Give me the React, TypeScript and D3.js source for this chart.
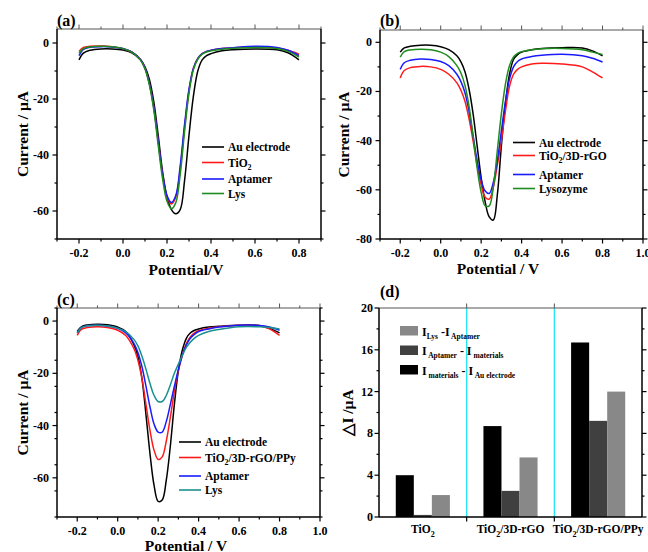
import React from "react";
import * as d3 from "d3";

const FONT = "'Liberation Serif','Times New Roman',Times,serif";

// Potential grid (V)
const potentials = [-0.2, -0.18, -0.15, -0.1, -0.05, 0, 0.04, 0.08, 0.1, 0.12, 0.14, 0.16, 0.18, 0.2, 0.22, 0.24, 0.26, 0.28, 0.3, 0.32, 0.34, 0.36, 0.38, 0.4, 0.45, 0.5, 0.6, 0.7, 0.75, 0.8];

// Panel (a)
const aAu = [-6, -3.6, -2.6, -2.1, -2.1, -2.5, -3.5, -6, -8.5, -13, -21, -33, -46, -55, -59.5, -61, -59.5, -49, -33, -19, -10, -6, -4.5, -3.8, -2.8, -2.4, -2.1, -2.4, -3.5, -6];
const aTiO2 = [-3, -1.6, -1.2, -1.1, -1.3, -2, -3.2, -6, -9, -14.5, -23, -35, -47, -55, -57.5, -55, -45, -30, -17, -9, -5.5, -3.8, -3, -2.6, -2, -1.7, -1.3, -1.8, -2.6, -4];
const aApt = [-4.5, -2.3, -1.5, -1.3, -1.4, -2, -3.2, -6, -9, -14.5, -23, -35, -47, -54.5, -57, -54.5, -44, -29, -16.5, -9, -5.5, -3.8, -3, -2.6, -2, -1.7, -1.2, -1.6, -2.6, -4.5];
const aLys = [-3.7, -2, -1.4, -1.2, -1.3, -2, -3.3, -6.2, -9.3, -15, -24, -36.5, -48.5, -56.5, -59.2, -57, -47, -31.5, -18, -9.5, -5.8, -4, -3.2, -2.8, -2.2, -1.9, -1.6, -2, -3, -5];

// Panel (b)
const bAu = [-4, -2.3, -1.6, -1.2, -1.2, -1.8, -3, -5.5, -8, -12, -19, -29, -42, -55, -65, -71, -72.3, -62, -42, -25, -13, -7, -5, -4, -3, -2.5, -2.2, -2.3, -3.5, -5.5];
const bTiO2rGO = [-14.5, -11.5, -10.3, -9.8, -10, -11, -13, -16.5, -19.5, -24, -31, -40, -50, -58, -63, -63.8, -59, -50, -40, -28, -18, -13, -11, -10, -8.8, -8.5, -8.8, -10, -12, -14.5];
const bApt = [-11, -8.3, -7.3, -6.8, -7, -7.8, -9.5, -13, -16, -20.5, -28, -38, -48, -56, -60.5, -61.5, -57, -48, -36, -24, -15, -10, -7.8, -6.8, -5.8, -5.3, -4.9, -5.5, -6.5, -8];
const bLyso = [-6, -3.8, -3.1, -2.8, -3, -4, -5.8, -9.5, -12.5, -17.5, -26, -38, -51, -61, -66.5, -66.5, -59, -44, -29, -17, -9.5, -6, -4.5, -3.8, -3, -2.6, -2.5, -3, -4, -5];

// Panel (c)
const cAu = [-4, -2.2, -1.5, -1.2, -1.4, -2.3, -4, -9, -13.5, -22, -36, -51, -63, -69, -68.5, -61, -48, -32, -19, -11, -6.5, -4.5, -3.5, -3, -2.3, -2, -1.6, -1.7, -2.8, -4.5];
const cPPy = [-5.5, -3.2, -2.5, -2.2, -2.5, -3.5, -5.5, -10.5, -15, -22, -32, -42, -49.5, -53, -52, -46, -37, -27, -19, -13, -8.5, -6, -4.5, -3.7, -2.7, -2.2, -1.6, -1.8, -3, -5.5];
const cApt = [-4.5, -2.5, -1.8, -1.6, -1.9, -2.8, -4.5, -8.5, -12, -17.5, -25, -33, -39.5, -42.5, -42.5, -38.5, -32, -25, -18.5, -13, -9, -6.5, -5, -4, -3, -2.3, -1.6, -1.7, -2.3, -3.5];
const cLys = [-4.5, -2.5, -1.8, -1.6, -1.9, -2.7, -4, -7, -9.5, -13.5, -18.5, -24, -28.5, -30.8, -30.8, -28.5, -24.5, -20, -16.5, -13, -10, -8, -6.5, -5.5, -4, -3.2, -2.2, -2.2, -2.5, -3];

// Panel (d)
const barGroups = ["TiO2", "TiO2/3D-rGO", "TiO2/3D-rGO/PPy"];
const barMatAu = [4.0, 8.7, 16.7];
const barAptMat = [0.2, 2.5, 9.2];
const barLysApt = [2.1, 5.7, 12.0];

const xTicksA = [-0.2, 0, 0.2, 0.4, 0.6, 0.8];
const xTicksBC = [-0.2, 0, 0.2, 0.4, 0.6, 0.8, 1.0];
const yTicksA = [0, -20, -40, -60];
const yTicksB = [0, -20, -40, -60, -80];
const yTicksC = [0, -20, -40, -60];
const yTicksD = [0, 4, 8, 12, 16, 20];

const C_BLACK = "#000000";
const C_RED = "#ff1a1a";
const C_BLUE = "#1a1aff";
const C_GREEN = "#1e8c1e";
const C_TEAL = "#1a9090";

type Legend = { label: React.ReactNode; color: string; y: number };

function fmt(v: number) {
  return Math.abs(v) < 1e-9 ? "0.0" : v.toFixed(1);
}

function Sub({ base, sub, rest }: { base: string; sub: string; rest?: string }) {
  return (
    <>
      <tspan>{base}</tspan>
      <tspan fontSize={8} dy={3}>{sub}</tspan>
      {rest ? <tspan dy={-3}>{rest}</tspan> : null}
    </>
  );
}

function Frame({ x0, x1, y0, y1 }: { x0: number; x1: number; y0: number; y1: number }) {
  return (
    <g>
      <line x1={x0} x2={x1} y1={y0} y2={y0} stroke="#555" strokeWidth={1} />
      <line x1={x0} x2={x0} y1={y0} y2={y1} stroke="#000" strokeWidth={1.5} />
      <line x1={x1} x2={x1} y1={y0} y2={y1} stroke="#000" strokeWidth={1.5} />
      <line x1={x0} x2={x1} y1={y1} y2={y1} stroke="#000" strokeWidth={1.5} />
    </g>
  );
}

function LinePanel(props: {
  x0: number; x1: number; y0: number; y1: number;
  xDomain: [number, number]; yDomain: [number, number];
  xTicks: number[]; yTicks: number[];
  series: { values: number[]; color: string }[];
  legend: Legend[]; legendX: number;
  label: string; labelY: number;
  xTitle: string; xTitleX: number; xTitleY: number; yTitleX: number;
}) {
  const { x0, x1, y0, y1, xDomain, yDomain, xTicks, yTicks, series, legend, legendX } = props;
  const xs = d3.scaleLinear().domain(xDomain).range([x0, x1]);
  const ys = d3.scaleLinear().domain(yDomain).range([y1, y0]);
  const xMinor: number[] = [];
  for (let i = 0; i < xTicks.length; i++) {
    const v = xTicks[i] - 0.1;
    if (v >= xDomain[0] - 1e-9) xMinor.push(v);
  }
  const lastX = xTicks[xTicks.length - 1] + 0.1;
  if (lastX <= xDomain[1] + 1e-9) xMinor.push(lastX);
  const yMinor: number[] = [];
  for (let v = yDomain[0]; v <= yDomain[1]; v += 10) {
    if (Math.round(v) % 20 !== 0) yMinor.push(v);
  }
  const line = d3
    .line<number>()
    .x((_, i) => xs(potentials[i]))
    .y((v) => ys(v))
    .curve(d3.curveCatmullRom.alpha(0.5));
  const MJ = 4.5;
  const MN = 2.5;
  return (
    <g>
      {series.map((s, i) => (
        <path key={i} d={line(s.values) || ""} fill="none" stroke={s.color} strokeWidth={1.5} />
      ))}
      <Frame x0={x0} x1={x1} y0={y0} y1={y1} />
      {xTicks.map((t) => (
        <g key={"xt" + t}>
          <line x1={xs(t)} x2={xs(t)} y1={y1} y2={y1 + MJ} stroke="#000" strokeWidth={1.2} />
          <line x1={xs(t)} x2={xs(t)} y1={y0} y2={y0 - MJ} stroke="#555" strokeWidth={1} />
          <text x={xs(t)} y={y1 + 17.5} textAnchor="middle" fontSize={12} fontWeight="bold" fontFamily={FONT}>
            {fmt(t)}
          </text>
        </g>
      ))}
      {xMinor.map((t) => (
        <g key={"xm" + t}>
          <line x1={xs(t)} x2={xs(t)} y1={y1} y2={y1 + MN} stroke="#000" strokeWidth={1.2} />
          <line x1={xs(t)} x2={xs(t)} y1={y0} y2={y0 - MN} stroke="#555" strokeWidth={1} />
        </g>
      ))}
      {yTicks.map((t) => (
        <g key={"yt" + t}>
          <line x1={x0} x2={x0 - MJ} y1={ys(t)} y2={ys(t)} stroke="#000" strokeWidth={1.2} />
          <line x1={x1} x2={x1 + MJ} y1={ys(t)} y2={ys(t)} stroke="#000" strokeWidth={1.2} />
          <text x={x0 - 8} y={ys(t) + 4} textAnchor="end" fontSize={12} fontWeight="bold" fontFamily={FONT}>
            {t}
          </text>
        </g>
      ))}
      {yMinor.map((t) => (
        <g key={"ym" + t}>
          <line x1={x0} x2={x0 - MN} y1={ys(t)} y2={ys(t)} stroke="#000" strokeWidth={1.2} />
          <line x1={x1} x2={x1 + MN} y1={ys(t)} y2={ys(t)} stroke="#000" strokeWidth={1.2} />
        </g>
      ))}
      {legend.map((l, i) => (
        <g key={"lg" + i}>
          <line x1={legendX} x2={legendX + 22} y1={l.y} y2={l.y} stroke={l.color} strokeWidth={1.6} />
          <text x={legendX + 26} y={l.y + 4} fontSize={11.5} fontWeight="bold" fontFamily={FONT}>
            {l.label}
          </text>
        </g>
      ))}
      <text x={x0} y={props.labelY} fontSize={16} fontWeight="bold" fontFamily={FONT}>
        {props.label}
      </text>
      <text x={props.xTitleX} y={props.xTitleY} textAnchor="middle" fontSize={15.5} fontWeight="bold" fontFamily={FONT}>
        {props.xTitle}
      </text>
      <text
        transform={`translate(${props.yTitleX},${(y0 + y1) / 2}) rotate(-90)`}
        textAnchor="middle"
        fontSize={15.5}
        fontWeight="bold"
        fontFamily={FONT}
      >
        Current / μA
      </text>
    </g>
  );
}

function BarPanel() {
  const x0 = 379, x1 = 642, y0 = 308, y1 = 517;
  const gx = d3.scaleBand<string>().domain(barGroups).range([x0, x1]).paddingInner(0).paddingOuter(0);
  const keys = ["matAu", "aptMat", "lysApt"];
  const sx = d3.scaleBand<string>().domain(keys).range([0, gx.bandwidth()]).paddingInner(0).paddingOuter(0.93);
  const ys = d3.scaleLinear().domain([0, 20]).range([y1, y0]);
  const vals: Record<string, number[]> = { matAu: barMatAu, aptMat: barAptMat, lysApt: barLysApt };
  const cols: Record<string, string> = { matAu: "#000000", aptMat: "#404040", lysApt: "#888888" };
  const bounds = [gx(barGroups[1])!, gx(barGroups[2])!];
  const minor = [2, 6, 10, 14, 18];
  const leg = [
    { key: "lysApt", y: 326, parts: ["I", "Lys", " -I", " Aptamer"] },
    { key: "aptMat", y: 345.5, parts: ["I", " Aptamer", " - I", " materials"] },
    { key: "matAu", y: 365, parts: ["I", " materials", " - I", " Au electrode"] },
  ];
  return (
    <g>
      {bounds.map((b, i) => (
        <line key={"cy" + i} x1={b} x2={b} y1={y0} y2={y1} stroke="#22e8f5" strokeWidth={1.3} />
      ))}
      {barGroups.map((g, gi) =>
        keys.map((k) => (
          <rect
            key={g + k}
            x={gx(g)! + sx(k)!}
            y={ys(vals[k][gi])}
            width={sx.bandwidth()}
            height={y1 - ys(vals[k][gi])}
            fill={cols[k]}
          />
        ))
      )}
      <Frame x0={x0} x1={x1} y0={y0} y1={y1} />
      {bounds.map((b, i) => (
        <g key={"bt" + i}>
          <line x1={b} x2={b} y1={y1} y2={y1 + 4.5} stroke="#000" strokeWidth={1.2} />
          <line x1={b} x2={b} y1={y0} y2={y0 - 4.5} stroke="#555" strokeWidth={1} />
        </g>
      ))}
      {yTicksD.map((t) => (
        <g key={"dy" + t}>
          <line x1={x0} x2={x0 - 4.5} y1={ys(t)} y2={ys(t)} stroke="#000" strokeWidth={1.2} />
          <line x1={x1} x2={x1 + 4.5} y1={ys(t)} y2={ys(t)} stroke="#000" strokeWidth={1.2} />
          <text x={x0 - 6} y={ys(t) + 4} textAnchor="end" fontSize={12} fontWeight="bold" fontFamily={FONT}>
            {t}
          </text>
        </g>
      ))}
      {minor.map((t) => (
        <g key={"dm" + t}>
          <line x1={x0} x2={x0 - 2.5} y1={ys(t)} y2={ys(t)} stroke="#000" strokeWidth={1.2} />
          <line x1={x1} x2={x1 + 2.5} y1={ys(t)} y2={ys(t)} stroke="#000" strokeWidth={1.2} />
        </g>
      ))}
      {barGroups.map((g) => {
        const cx = gx(g)! + gx.bandwidth() / 2;
        const parts = g.split("2");
        return (
          <text key={"lab" + g} x={cx} y={533} textAnchor="middle" fontSize={11.5} fontWeight="bold" fontFamily={FONT}>
            <tspan>{parts[0]}</tspan>
            <tspan fontSize={8} dy={4}>2</tspan>
            {parts[1] ? <tspan dy={-4}>{parts[1]}</tspan> : null}
          </text>
        );
      })}
      {leg.map((l) => (
        <g key={"leg" + l.key}>
          <rect x={400} y={l.y} width={18} height={9.5} fill={cols[l.key]} />
          <text x={422} y={l.y + 9.5} fontSize={12} fontWeight="bold" fontFamily={FONT}>
            <tspan>{l.parts[0]}</tspan>
            <tspan fontSize={7.5} dy={3}>{l.parts[1]}</tspan>
            <tspan dy={-3}>{l.parts[2]}</tspan>
            <tspan fontSize={7.5} dy={3}>{l.parts[3]}</tspan>
          </text>
        </g>
      ))}
      <text x={x0 + 1} y={297} fontSize={16} fontWeight="bold" fontFamily={FONT}>
        (d)
      </text>
      <text
        transform={`translate(${353},${(y0 + y1) / 2}) rotate(-90)`}
        textAnchor="middle"
        fontSize={15.5}
        fontWeight="bold"
        fontFamily={FONT}
      >
        △I /μA
      </text>
    </g>
  );
}

export default function App() {
  return (
    <svg
      width={648}
      height={552}
      viewBox="0 0 648 552"
      style={{ position: "absolute", left: 0, top: 0, background: "#fff" }}
    >
      <rect x={0} y={0} width={648} height={552} fill="#fff" />
      <LinePanel
        x0={57} x1={321} y0={29} y1={239}
        xDomain={[-0.3, 0.9]} yDomain={[-70, 5]}
        xTicks={xTicksA} yTicks={yTicksA}
        series={[
          { values: aAu, color: C_BLACK },
          { values: aTiO2, color: C_RED },
          { values: aApt, color: C_BLUE },
          { values: aLys, color: C_GREEN },
        ]}
        legendX={202}
        legend={[
          { label: "Au electrode", color: C_BLACK, y: 147 },
          { label: <Sub base="TiO" sub="2" />, color: C_RED, y: 162.5 },
          { label: "Aptamer", color: C_BLUE, y: 179 },
          { label: "Lys", color: C_GREEN, y: 193.5 },
        ]}
        label="(a)" labelY={26}
        xTitle="Potential/V" xTitleX={186} xTitleY={275} yTitleX={28}
      />
      <LinePanel
        x0={380} x1={643} y0={30} y1={239}
        xDomain={[-0.3, 1.0]} yDomain={[-80, 5]}
        xTicks={xTicksBC} yTicks={yTicksB}
        series={[
          { values: bAu, color: C_BLACK },
          { values: bTiO2rGO, color: C_RED },
          { values: bApt, color: C_BLUE },
          { values: bLyso, color: C_GREEN },
        ]}
        legendX={513}
        legend={[
          { label: "Au electrode", color: C_BLACK, y: 142.5 },
          { label: <Sub base="TiO" sub="2" rest="/3D-rGO" />, color: C_RED, y: 155.5 },
          { label: "Aptamer", color: C_BLUE, y: 174.5 },
          { label: "Lysozyme", color: C_GREEN, y: 188.5 },
        ]}
        label="(b)" labelY={26}
        xTitle="Potential / V" xTitleX={498} xTitleY={274} yTitleX={349}
      />
      <LinePanel
        x0={57} x1={320} y0={308} y1={517}
        xDomain={[-0.3, 1.0]} yDomain={[-75, 5]}
        xTicks={xTicksBC} yTicks={yTicksC}
        series={[
          { values: cAu, color: C_BLACK },
          { values: cPPy, color: C_RED },
          { values: cApt, color: C_BLUE },
          { values: cLys, color: C_TEAL },
        ]}
        legendX={179}
        legend={[
          { label: "Au electrode", color: C_BLACK, y: 442 },
          { label: <Sub base="TiO" sub="2" rest="/3D-rGO/PPy" />, color: C_RED, y: 457.5 },
          { label: "Aptamer", color: C_BLUE, y: 476 },
          { label: "Lys", color: C_TEAL, y: 490 },
        ]}
        label="(c)" labelY={305}
        xTitle="Potential / V" xTitleX={186} xTitleY={551} yTitleX={28}
      />
      <BarPanel />
    </svg>
  );
}
